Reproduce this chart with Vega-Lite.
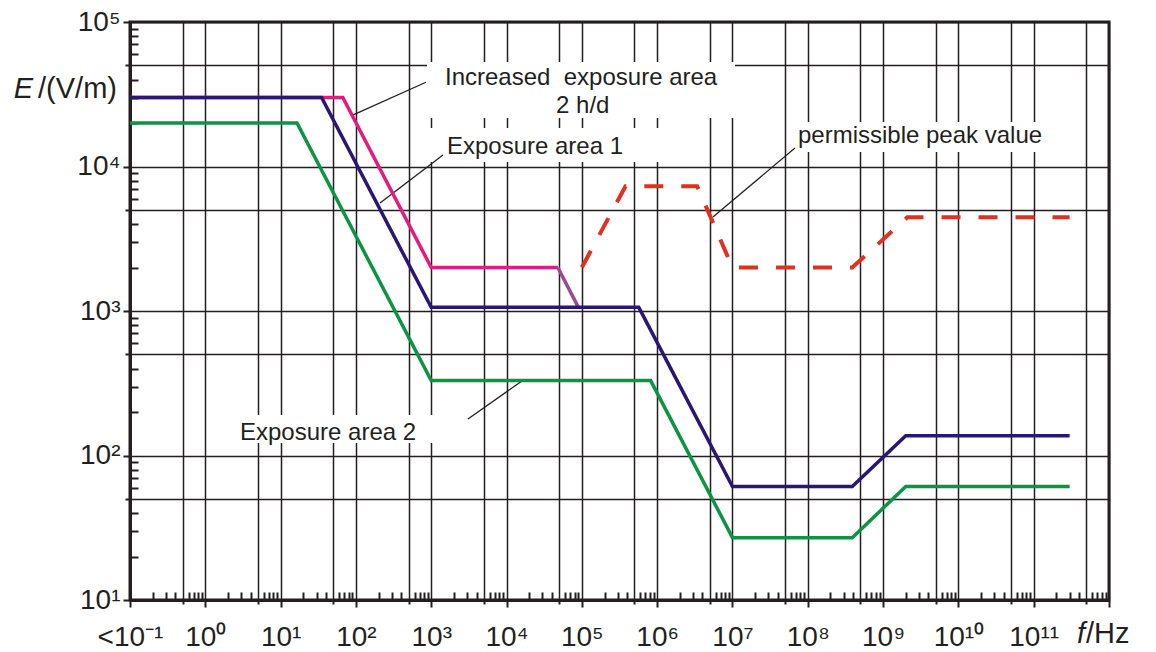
{
  "$schema": "https://vega.github.io/schema/vega-lite/v6.json",
  "width": 979,
  "height": 578,
  "autosize": {"type": "none"},
  "padding": {"left": 130, "top": 22, "right": 47, "bottom": 52},
  "background": "white",
  "config": {
    "view": {"stroke": "#231f20", "strokeWidth": 3},
    "font": "Liberation Sans"
  },
  "datasets": {
    "curves": [
      {"series": "Increased exposure area 2 h/d", "f": 0.1, "E": 30000},
      {"series": "Increased exposure area 2 h/d", "f": 67, "E": 30000},
      {"series": "Increased exposure area 2 h/d", "f": 1000, "E": 2000},
      {"series": "Increased exposure area 2 h/d", "f": 48000, "E": 2000},
      {"series": "Increased exposure area 2 h/d (transition)", "f": 48000, "E": 2000},
      {"series": "Increased exposure area 2 h/d (transition)", "f": 90000, "E": 1060},
      {"series": "Exposure area 2", "f": 0.1, "E": 20000},
      {"series": "Exposure area 2", "f": 16.5, "E": 20000},
      {"series": "Exposure area 2", "f": 1000, "E": 330},
      {"series": "Exposure area 2", "f": 820000, "E": 330},
      {"series": "Exposure area 2", "f": 10000000, "E": 27},
      {"series": "Exposure area 2", "f": 390000000, "E": 27},
      {"series": "Exposure area 2", "f": 2000000000, "E": 61},
      {"series": "Exposure area 2", "f": 300000000000, "E": 61},
      {"series": "Exposure area 1", "f": 0.1, "E": 30000},
      {"series": "Exposure area 1", "f": 35, "E": 30000},
      {"series": "Exposure area 1", "f": 1000, "E": 1060},
      {"series": "Exposure area 1", "f": 570000, "E": 1060},
      {"series": "Exposure area 1", "f": 10000000, "E": 61},
      {"series": "Exposure area 1", "f": 390000000, "E": 61},
      {"series": "Exposure area 1", "f": 2000000000, "E": 137},
      {"series": "Exposure area 1", "f": 300000000000, "E": 137},
      {"series": "permissible peak value", "f": 100000, "E": 2000},
      {"series": "permissible peak value", "f": 380000, "E": 7300},
      {"series": "permissible peak value", "f": 3400000, "E": 7300},
      {"series": "permissible peak value", "f": 10000000, "E": 2000},
      {"series": "permissible peak value", "f": 390000000, "E": 2000},
      {"series": "permissible peak value", "f": 2100000000, "E": 4450},
      {"series": "permissible peak value", "f": 300000000000, "E": 4450}
    ],
    "boxes": [
      {"f": 879, "f2": 10800000, "E": 52800, "E2": 21700},
      {"f": 964, "f2": 1270000, "E": 18450, "E2": 10740},
      {"f": 58100000, "f2": 192000000000, "E": 20320, "E2": 12590},
      {"f": 1.826, "f2": 1306, "E": 190.6, "E2": 122}
    ],
    "leaders": [
      {"f": 90.6, "E": 22700, "f2": 851, "E2": 38300},
      {"f": 209, "E": 5585, "f2": 1432, "E2": 12020},
      {"f": 5510000, "E": 4473, "f2": 67600000, "E2": 13430},
      {"f": 3076, "E": 179, "f2": 16030, "E2": 328}
    ],
    "labels": [
      {"text": "Increased\u00a0 exposure area", "f": 1524, "E": 36640},
      {"text": "2 h/d", "f": 45400, "E": 23550},
      {"text": "Exposure area 1", "f": 1618, "E": 12210},
      {"text": "permissible peak value", "f": 74100000, "E": 14610},
      {"text": "Exposure area 2", "f": 2.89, "E": 128}
    ],
    "axisTitles": [
      {"text": "E", "f": 0.1, "E": 29800},
      {"text": "/(V/m)", "f": 0.1, "E": 29800},
      {"text": "f", "f": 1000000000000, "E": 10},
      {"text": "/Hz", "f": 1000000000000, "E": 10}
    ]
  },
  "encoding": {
    "x": {
      "field": "f",
      "type": "quantitative",
      "scale": {"type": "log", "domain": [0.1, 1000000000000], "nice": false},
      "axis": {
        "title": null,
        "values": [0.1, 0.2, 0.3, 0.4, 0.5, 0.6, 0.7, 0.8, 0.9,
          1, 2, 3, 4, 5, 6, 7, 8, 9,
          10, 20, 30, 40, 50, 60, 70, 80, 90,
          100, 200, 300, 400, 500, 600, 700, 800, 900,
          1000, 2000, 3000, 4000, 5000, 6000, 7000, 8000, 9000,
          1e4, 2e4, 3e4, 4e4, 5e4, 6e4, 7e4, 8e4, 9e4,
          1e5, 2e5, 3e5, 4e5, 5e5, 6e5, 7e5, 8e5, 9e5,
          1e6, 2e6, 3e6, 4e6, 5e6, 6e6, 7e6, 8e6, 9e6,
          1e7, 2e7, 3e7, 4e7, 5e7, 6e7, 7e7, 8e7, 9e7,
          1e8, 2e8, 3e8, 4e8, 5e8, 6e8, 7e8, 8e8, 9e8,
          1e9, 2e9, 3e9, 4e9, 5e9, 6e9, 7e9, 8e9, 9e9,
          1e10, 2e10, 3e10, 4e10, 5e10, 6e10, 7e10, 8e10, 9e10,
          1e11, 2e11, 3e11, 4e11, 5e11, 6e11, 7e11, 8e11, 9e11,
          1e12],
        "grid": true,
        "gridColor": "#231f20",
        "gridWidth": 1.5,
        "gridOpacity": {"condition": {"test": "round(datum.value/pow(10,floor(log(datum.value)/LN10+1e-6)))==1 || round(datum.value/pow(10,floor(log(datum.value)/LN10+1e-6)))==5", "value": 1}, "value": 0},
        "domainColor": "#231f20",
        "domainWidth": 3,
        "tickColor": "#231f20",
        "tickWidth": 2,
        "tickSize": {"condition": [
          {"test": "round(datum.value/pow(10,floor(log(datum.value)/LN10+1e-6)))==1", "value": 7},
          {"test": "round(datum.value/pow(10,floor(log(datum.value)/LN10+1e-6)))==5", "value": 4}
        ], "value": -8},
        "labelExpr": "floor(log(datum.value)/LN10+1e-6)>=12 || round(datum.value/pow(10,floor(log(datum.value)/LN10+1e-6)))!=1 ? '' : (floor(log(datum.value)/LN10+1e-6)<0 ? '<10⁻¹' : '10'+['⁰','¹','²','³','⁴','⁵','⁶','⁷','⁸','⁹','¹⁰','¹¹'][floor(log(datum.value)/LN10+1e-6)])",
        "labelFont": "Liberation Sans",
        "labelFontSize": 28,
        "labelColor": "#231f20",
        "labelBaseline": "alphabetic",
        "labelPadding": 38,
        "labelOverlap": false,
        "labelFlush": false,
        "labelBound": false
      }
    },
    "y": {
      "field": "E",
      "type": "quantitative",
      "scale": {"type": "log", "domain": [10, 100000], "nice": false},
      "axis": {
        "title": null,
        "values": [10, 20, 30, 40, 50, 60, 70, 80, 90,
          100, 200, 300, 400, 500, 600, 700, 800, 900,
          1000, 2000, 3000, 4000, 5000, 6000, 7000, 8000, 9000,
          10000, 20000, 30000, 40000, 50000, 60000, 70000, 80000, 90000,
          100000],
        "grid": true,
        "gridColor": "#231f20",
        "gridWidth": 1.5,
        "gridOpacity": {"condition": {"test": "round(datum.value/pow(10,floor(log(datum.value)/LN10+1e-6)))==1 || round(datum.value/pow(10,floor(log(datum.value)/LN10+1e-6)))==5", "value": 1}, "value": 0},
        "domainColor": "#231f20",
        "domainWidth": 3,
        "tickColor": "#231f20",
        "tickWidth": 2,
        "tickSize": {"condition": [
          {"test": "round(datum.value/pow(10,floor(log(datum.value)/LN10+1e-6)))==1", "value": 7},
          {"test": "round(datum.value/pow(10,floor(log(datum.value)/LN10+1e-6)))==5", "value": 5}
        ], "value": -8},
        "labelExpr": "round(datum.value/pow(10,floor(log(datum.value)/LN10+1e-6)))!=1 ? '' : '10'+['⁰','¹','²','³','⁴','⁵'][floor(log(datum.value)/LN10+1e-6)]",
        "labelFont": "Liberation Sans",
        "labelFontSize": 28,
        "labelColor": "#231f20",
        "labelPadding": 3,
        "labelOverlap": false,
        "labelFlush": false,
        "labelBound": false
      }
    }
  },
  "layer": [
    {
      "data": {"name": "boxes"},
      "mark": {"type": "rect", "fill": "white", "stroke": null},
      "encoding": {
        "x2": {"field": "f2"},
        "y2": {"field": "E2"}
      }
    },
    {
      "data": {"name": "leaders"},
      "mark": {"type": "rule", "stroke": "#231f20", "strokeWidth": 1.3},
      "encoding": {
        "x2": {"field": "f2"},
        "y2": {"field": "E2"}
      }
    },
    {
      "data": {"name": "curves"},
      "transform": [{"filter": "datum.series == 'Increased exposure area 2 h/d'"}],
      "mark": {"type": "line", "stroke": "#e41b7f", "strokeWidth": 3.5}
    },
    {
      "data": {"name": "curves"},
      "transform": [{"filter": "datum.series == 'Increased exposure area 2 h/d (transition)'"}],
      "mark": {"type": "line", "stroke": "#9a4b8c", "strokeWidth": 3.5}
    },
    {
      "data": {"name": "curves"},
      "transform": [{"filter": "datum.series == 'Exposure area 2'"}],
      "mark": {"type": "line", "stroke": "#0b9444", "strokeWidth": 3.5}
    },
    {
      "data": {"name": "curves"},
      "transform": [{"filter": "datum.series == 'Exposure area 1'"}],
      "mark": {"type": "line", "stroke": "#2a1673", "strokeWidth": 3.5}
    },
    {
      "data": {"name": "curves"},
      "transform": [{"filter": "datum.series == 'permissible peak value'"}],
      "mark": {"type": "line", "stroke": "#e0311f", "strokeWidth": 4, "strokeDash": [19, 18]}
    },
    {
      "data": {"name": "labels"},
      "mark": {"type": "text", "align": "left", "baseline": "alphabetic", "font": "Liberation Sans", "fontSize": 24, "fill": "#231f20"},
      "encoding": {"text": {"field": "text"}}
    },
    {
      "data": {"name": "axisTitles"},
      "transform": [{"filter": "datum.text == 'E'"}],
      "mark": {"type": "text", "align": "right", "baseline": "alphabetic", "dx": -97, "font": "Liberation Sans", "fontSize": 29, "fontStyle": "italic", "fill": "#231f20"},
      "encoding": {"text": {"field": "text"}}
    },
    {
      "data": {"name": "axisTitles"},
      "transform": [{"filter": "datum.text == '/(V/m)'"}],
      "mark": {"type": "text", "align": "right", "baseline": "alphabetic", "dx": -13, "font": "Liberation Sans", "fontSize": 29, "fill": "#231f20"},
      "encoding": {"text": {"field": "text"}}
    },
    {
      "data": {"name": "axisTitles"},
      "transform": [{"filter": "datum.text == 'f'"}],
      "mark": {"type": "text", "align": "right", "baseline": "alphabetic", "dx": -24, "dy": 43, "font": "Liberation Sans", "fontSize": 29, "fontStyle": "italic", "fill": "#231f20"},
      "encoding": {"text": {"field": "text"}}
    },
    {
      "data": {"name": "axisTitles"},
      "transform": [{"filter": "datum.text == '/Hz'"}],
      "mark": {"type": "text", "align": "left", "baseline": "alphabetic", "dx": -23, "dy": 43, "font": "Liberation Sans", "fontSize": 29, "fill": "#231f20"},
      "encoding": {"text": {"field": "text"}}
    }
  ]
}
